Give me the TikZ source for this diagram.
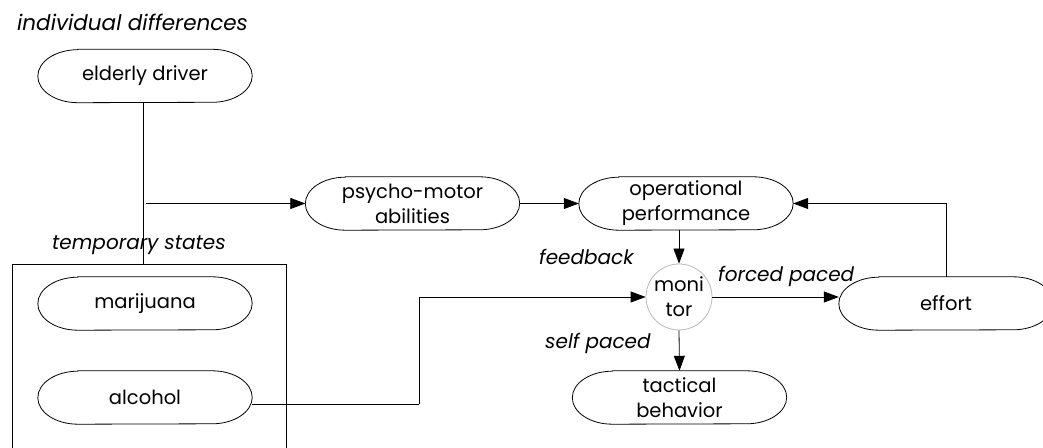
\documentclass[tikz,border=0pt]{standalone}
\usepackage{fontspec}
\setmainfont{Poppins}
\usetikzlibrary{arrows.meta,calc}
\newcommand\pillat[1]{%
  \draw[pillline] ($(#1.north west)+(40pt,0)$) -- ($(#1.north east)+(-40pt,0)$)
    arc[start angle=90,end angle=-90,x radius=40pt,y radius=26.5pt]
    -- ($(#1.south west)+(40pt,0)$)
    arc[start angle=270,end angle=90,x radius=40pt,y radius=26.5pt] -- cycle;}
\begin{document}
\begin{tikzpicture}[x=1pt,y=1pt,
  txt/.style={font=\fontsize{19.5}{25}\selectfont},
  itl/.style={font=\fontsize{20}{25}\selectfont\itshape, inner sep=0},
  pill/.style={txt, minimum width=214pt, minimum height=53pt, inner sep=0, align=center},
  pillline/.style={line width=0.8pt},
  conn/.style={line width=0.8pt},
  arr/.style={conn, -{Triangle[length=15pt,width=11pt]}}]
\useasboundingbox (0,0) rectangle (1043,447);
\clip (0,0) rectangle (1043,447);

% labels
\node[itl, font=\fontsize{21.5}{25}\selectfont\itshape, anchor=west] (tid) at (17,425) {individual differences};
\node[itl, anchor=west] (tts) at (52,202) {temporary states};
\node[itl, anchor=west] (tfb) at (539,190) {feedback};
\node[itl, anchor=west] (tfp) at (718,171) {forced paced};
\node[itl, anchor=west] (tsp) at (545,104) {self paced};

% box of temporary states
\draw[conn] (12,-5) rectangle (286,183);

% nodes
\node[pill] (ed) at (145,371) {elderly driver};
\node[pill] (pm) at (412.5,243.5) {psycho-motor\\abilities};
\node[pill] (op) at (686,243.5) {operational\\performance};
\node[pill] (mar) at (145,143.5) {marijuana};
\node[pill] (alc) at (145,49.5) {alcohol};
\node[pill] (eff) at (946,143.5) {effort};
\node[pill] (tac) at (679.5,49.5) {tactical\\behavior};
\node[txt, circle, draw=gray!55, line width=0.8pt, minimum size=66pt, inner sep=0, align=center] (mon) at (679,150) {moni\\tor};

\foreach \n in {ed,pm,op,mar,alc,eff,tac} {\pillat{\n}}

% connectors
\coordinate (boxtop) at (143,183);
\coordinate (arrstart) at (146,243.5);
\coordinate (alcturn) at (419,43);
\draw[conn] (ed.south -| boxtop) -- (boxtop);
\draw[arr] (arrstart) -- (pm.west);
\draw[arr] (pm.east) -- (op.west);
\draw[arr] (eff.north) |- (op.east);
\draw[arr] (op.south -| mon.north) -- (mon.north);
\draw[conn] (alc.east |- alcturn) -- (alcturn);
\draw[arr] (alcturn) |- (mon.west);
\draw[arr] (mon.east) -- (mon.east -| eff.west);
\draw[arr] (mon.south) -- (tac.north);
\end{tikzpicture}
\end{document}
